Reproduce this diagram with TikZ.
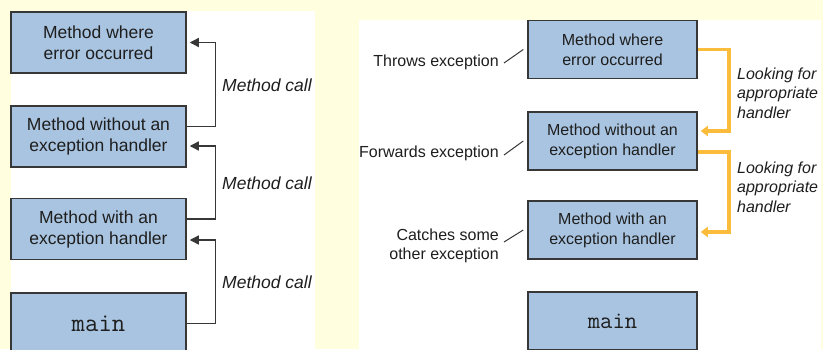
\documentclass[tikz,border=0pt]{standalone}
\usepackage{fontspec}
\setmainfont{Liberation Sans}
\usetikzlibrary{arrows.meta,positioning}
\definecolor{paper}{RGB}{255,255,224}
\definecolor{boxblue}{RGB}{169,196,224}
\definecolor{boxline}{RGB}{55,55,55}
\definecolor{ink}{RGB}{30,30,30}
\definecolor{seek}{RGB}{251,188,60}

\begin{document}
\begin{tikzpicture}[
x=1pt, y=-1pt,
  StackL/.style = {rectangle, draw=boxline, fill=boxblue,% frames of the left stack
                   line width=1.5pt, minimum width=175pt, minimum height=61pt,
                   inner sep=0pt, align=center, text=ink,
                   font=\fontsize{17.5}{21}\selectfont},
  StackR/.style = {rectangle, draw=boxline, fill=boxblue,% frames of the right stack
                   line width=1.5pt, minimum width=169pt, minimum height=58pt,
                   inner sep=0pt, align=center, text=ink,
                   font=\fontsize{16}{20}\selectfont},
    call/.style = {draw=boxline, line width=1.3pt,
                   -{Triangle[length=9pt,width=9pt]}, shorten >=3pt},
    seekarr/.style = {draw=seek, line width=3.5pt,
                   -{Triangle[length=7pt,width=10pt]}, shorten >=3pt},
    lead/.style = {draw=boxline, line width=1pt},
    note/.style = {text=ink, inner sep=0pt, font=\fontsize{16}{19.5}\selectfont},
                        ]
% background and the two panels
\fill[paper] (0,0) rectangle (823,349);
\useasboundingbox (0,0) rectangle (823,349);
\fill[white] (11,11) rectangle (315,349);
\fill[white] (359,20) rectangle (821,349);
% left: the call stack
\node[StackL] (errL)    at (98.5,42.5)  {Method where\\error occurred};
\node[StackL] (noHandL) at (98.5,136.5) {Method without an\\exception handler};
\node[StackL] (handL)   at (98.5,229)   {Method with an\\exception handler};
\node[StackL, font=\ttfamily\fontsize{26}{26}\selectfont] (mainL) at (98.5,323.5) {main};
\draw[call] ([yshift=10pt]noHandL.east) -- ++(29,0) |- (errL.east);
\draw[call] ([yshift=10pt]handL.east) -- ++(29,0) |- ([yshift=-9.5pt]noHandL.east);
\draw[call] (mainL.east) -- ++(29,0) |- ([yshift=-11pt]handL.east);
\foreach \y/\n in {85/1,183/2,282/3}% <-- labels of the calls
    \node[note, anchor=west, font=\itshape\fontsize{17.5}{21}\selectfont] (callLbl\n) at (222,\y) {Method call};
% right: searching the call stack
\node[StackR] (errR)    at (612.5,49.5) {Method where\\error occurred};
\node[StackR] (noHandR) at (612.5,141)  {Method without an\\exception handler};
\node[StackR] (handR)   at (612.5,230)  {Method with an\\exception handler};
\node[StackR, font=\ttfamily\fontsize{24}{24}\selectfont] (mainR) at (612.5,321) {main};
\draw[seekarr] (errR.east) -- ++(31,0) |- ([yshift=10pt]noHandR.east);
\draw[seekarr] ([yshift=-11pt]noHandR.east) -- ++(31,0) |- ([yshift=-2pt]handR.east);
\foreach \y/\n in {93/1,187/2}% <-- labels of the search
    \node[note, anchor=west, align=left, font=\itshape\fontsize{16}{19.5}\selectfont] (seekLbl\n) at (737,\y)
         {Looking for\\appropriate\\handler};
\node[note, anchor=east] (throwL) at (499,62)  {Throws exception};
\node[note, anchor=east] (fwdL)   at (499,153) {Forwards exception};
\node[note, anchor=east, align=right] (catchL) at (499,246) {Catches some\\other exception};
\draw[lead] ([xshift=5pt,yshift=-1pt]throwL.east) -- ([xshift=-4pt]errR.west);
\draw[lead] ([xshift=5pt,yshift=-2pt]fwdL.east) -- ([xshift=-4pt]noHandR.west);
\draw[lead] ([xshift=5pt,yshift=4pt]catchL.east) -- ([xshift=-4pt]handR.west);
\end{tikzpicture}
\end{document}
